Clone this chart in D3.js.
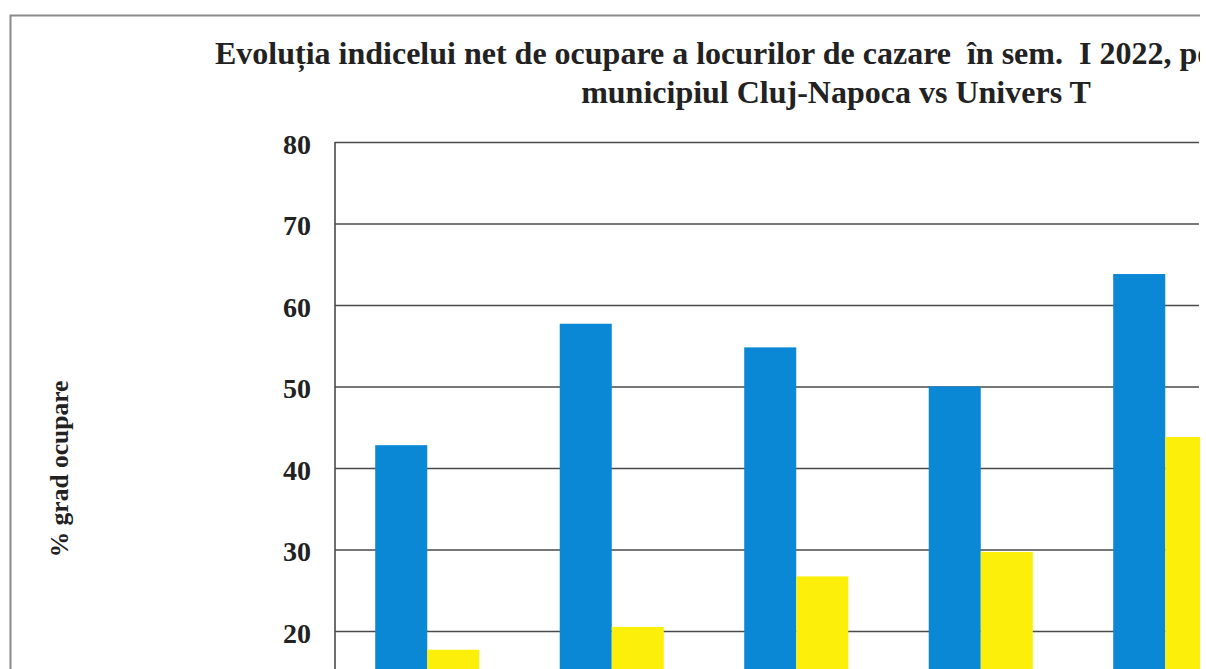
<!DOCTYPE html>
<html>
<head>
<meta charset="utf-8">
<script src="https://cdn.jsdelivr.net/npm/d3@7/dist/d3.min.js"></script>
<style>
  html, body { margin: 0; padding: 0; background: #fff; overflow: hidden; }
  svg { display: block; }
  text { font-family: "Liberation Serif", "Times New Roman", serif; font-weight: bold; fill: #222; white-space: pre; }
</style>
</head>
<body>
<svg id="chart" width="1206" height="669"></svg>
<script>
// ---- data ----
const titleLines = [
  "Evoluția indicelui net de ocupare a locurilor de cazare  în sem.  I 2022, pe",
  "municipiul Cluj-Napoca vs Univers T"
];
const yAxisTitle = "% grad ocupare";
const categories = ["Ianuarie", "Februarie", "Martie", "Aprilie", "Mai"];
const seriesNames = ["Cluj-Napoca", "Univers T"];
const clujValues = [42.8, 57.7, 54.8, 50.0, 63.8];
const universValues = [17.7, 20.5, 26.7, 29.7, 43.8];
const yTicks = [20, 30, 40, 50, 60, 70, 80];
const colors = ["#0a88d6", "#fcef0a"];

// ---- layout ----
const svg = d3.select("#chart");
const plotLeft = 335, plotTop = 142, plotRight = 1199;
const y0px = 794; // position of value 0 (below visible area)
const step = 184.5;

const y = d3.scaleLinear().domain([0, 80]).range([y0px, plotTop]);
const x = d3.scaleBand().domain(categories)
  .range([plotLeft, plotLeft + categories.length * step])
  .paddingInner(0.436).paddingOuter(0.218);
const xs = d3.scaleBand().domain(seriesNames).range([0, x.bandwidth()]).padding(0);

const rows = categories.map((c, i) => ({ cat: c, vals: [clujValues[i], universValues[i]] }));

svg.append("defs").append("clipPath").attr("id", "clip")
  .append("rect").attr("x", 0).attr("y", 0).attr("width", 1200).attr("height", 669);

const root = svg.append("g").attr("clip-path", "url(#clip)");

// outer frame (chart area border)
root.append("path")
  .attr("d", `M10.5,${y0px + 100} L10.5,15.5 L1206,15.5`)
  .attr("fill", "none").attr("stroke", "#8a8a8a").attr("stroke-width", 2);

// title
root.append("text").attr("x", 215).attr("y", 64).attr("font-size", 32).text(titleLines[0]);
root.append("text").attr("x", 836).attr("y", 103).attr("text-anchor", "middle").attr("font-size", 32).text(titleLines[1]);

// gridlines
const yAxis = d3.axisLeft(y).tickValues(yTicks).tickSize(-(plotRight - plotLeft)).tickPadding(24).tickFormat(d3.format("d"));
const gAxis = root.append("g").attr("transform", `translate(${plotLeft},0)`).call(yAxis);
gAxis.select(".domain").remove();
gAxis.selectAll(".tick line").attr("stroke", "#4a4a4a").attr("stroke-width", 1.6);
gAxis.selectAll(".tick text")
  .attr("font-family", "Liberation Serif, Times New Roman, serif")
  .attr("font-weight", "bold").attr("font-size", 28).attr("fill", "#262626")
  .attr("dy", "0.4em");

// left axis line
root.append("line").attr("x1", plotLeft).attr("x2", plotLeft)
  .attr("y1", y(80)).attr("y2", y(0))
  .attr("stroke", "#4a4a4a").attr("stroke-width", 1.6);

// bars
const groups = root.append("g").selectAll("g").data(rows).join("g")
  .attr("transform", d => `translate(${x(d.cat)},0)`);
groups.selectAll("rect").data(d => d.vals.map((v, k) => ({ k, v }))).join("rect")
  .attr("x", d => xs(seriesNames[d.k]))
  .attr("width", xs.bandwidth())
  .attr("y", d => y(d.v))
  .attr("height", d => y(0) - y(d.v))
  .attr("fill", d => colors[d.k]);

// y axis title
root.append("text")
  .attr("transform", "translate(68,469) rotate(-90)")
  .attr("text-anchor", "middle").attr("font-size", 25.5)
  .text(yAxisTitle);

// white margin at the right edge (scan crop)
svg.append("rect").attr("x", 1200).attr("y", 0).attr("width", 6).attr("height", 669).attr("fill", "#fff");
</script>
</body>
</html>
